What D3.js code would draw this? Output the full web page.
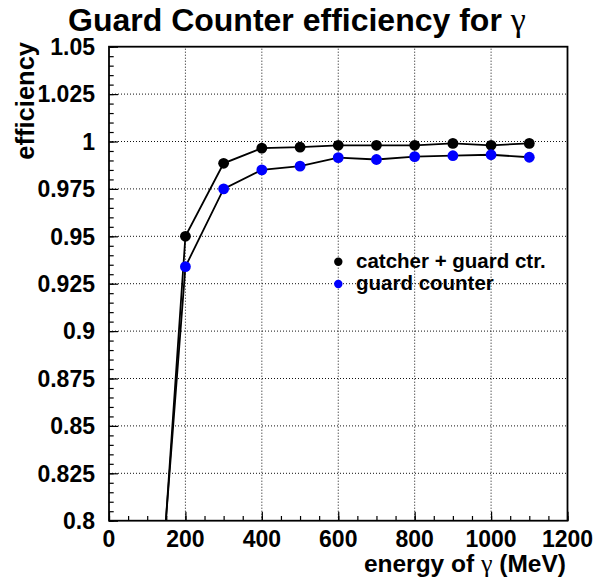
<!DOCTYPE html>
<html><head><meta charset="utf-8">
<script src="https://cdn.jsdelivr.net/npm/d3@7"></script>
<style>
html,body{margin:0;padding:0;background:#fff;}
svg{display:block;}
text{font-family:"Liberation Sans",Arial,Helvetica,sans-serif;font-weight:bold;fill:#000;}
.greek{font-family:"Liberation Serif","DejaVu Serif",serif;font-weight:normal;}
</style></head>
<body>
<script>
const energies = [100, 200, 300, 400, 500, 600, 700, 800, 900, 1000, 1100];
const catcherGuard = [0.657, 0.950, 0.9885, 0.9965, 0.997, 0.998, 0.998, 0.998, 0.999, 0.998, 0.999];
const guardCounter = [0.672, 0.934, 0.975, 0.985, 0.987, 0.9915, 0.9905, 0.992, 0.9925, 0.993, 0.9917];
const seriesNames = ["catcher + guard ctr.", "guard counter"];
const seriesColors = ["#000000", "#0000ff"];
const xTicks = [0, 200, 400, 600, 800, 1000, 1200];
const yTicks = [0.8, 0.825, 0.85, 0.875, 0.9, 0.925, 0.95, 0.975, 1, 1.025, 1.05];
const yTickLabels = ["0.8","0.825","0.85","0.875","0.9","0.925","0.95","0.975","1","1.025","1.05"];

const W = 605, H = 584;
const L = 109, R = 567.5, T = 46.7, B = 520.7;
const svg = d3.select("body").append("svg").attr("width", W).attr("height", H);
const x = d3.scaleLinear().domain([0, 1200]).range([L, R]);
const y = d3.scaleLinear().domain([0.8, 1.05]).range([B, T]);

// grid
const grid = svg.append("g").attr("stroke", "#111").attr("stroke-width", 1).attr("stroke-dasharray", "1,2");
xTicks.filter(v => v > 0 && v < 1200).forEach(v => {
  grid.append("line").attr("x1", x(v)).attr("x2", x(v)).attr("y1", B).attr("y2", T);
});
yTicks.filter(v => v > 0.8 && v < 1.05).forEach(v => {
  grid.append("line").attr("x1", L).attr("x2", R).attr("y1", y(v)).attr("y2", y(v));
});

// axes with minor ticks
const xMinor = d3.range(0, 1200.01, 50);
const xAxisMinor = d3.axisBottom(x).tickValues(xMinor).tickSize(-4.7).tickFormat("");
const xAxisMajor = d3.axisBottom(x).tickValues(xTicks).tickSize(-9).tickFormat("");
const yMinor = d3.range(0, 51).map(i => 0.8 + i * 0.005);
const yAxisMinor = d3.axisLeft(y).tickValues(yMinor).tickSize(-4.7).tickFormat("");
const yAxisMajor = d3.axisLeft(y).tickValues(yTicks).tickSize(-9).tickFormat("");
[xAxisMinor, xAxisMajor].forEach(a => {
  const g = svg.append("g").attr("transform", `translate(0,${B})`).call(a);
  g.select(".domain").remove();
  g.selectAll("line").attr("stroke", "#000").attr("stroke-width", 1.2);
});
[yAxisMinor, yAxisMajor].forEach(a => {
  const g = svg.append("g").attr("transform", `translate(${L},0)`).call(a);
  g.select(".domain").remove();
  g.selectAll("line").attr("stroke", "#000").attr("stroke-width", 1.2);
});

// tick labels
svg.append("g").selectAll("text").data(xTicks).join("text")
  .attr("x", d => x(d)).attr("y", 546.5).attr("text-anchor", "middle")
  .attr("font-size", 23).text(d => d);
svg.append("g").selectAll("text").data(yTicks).join("text")
  .attr("x", 95).attr("y", d => y(d) + 8.3).attr("text-anchor", "end")
  .attr("font-size", 23).text((d, i) => yTickLabels[i]);

// clip
svg.append("clipPath").attr("id", "clip").append("rect")
  .attr("x", L).attr("y", T).attr("width", R - L).attr("height", B - T);

const line = d3.line().x(d => x(d[0])).y(d => y(d[1]));
const seriesData = [catcherGuard, guardCounter];
const plot = svg.append("g").attr("clip-path", "url(#clip)");
seriesData.forEach((vals, si) => {
  const pts = energies.map((e, i) => [e, vals[i]]);
  plot.append("path").datum(pts).attr("d", line)
    .attr("fill", "none").attr("stroke", "#000").attr("stroke-width", 1.8);
});
seriesData.forEach((vals, si) => {
  const pts = energies.map((e, i) => [e, vals[i]]);
  plot.append("g").selectAll("circle").data(pts).join("circle")
    .attr("cx", d => x(d[0])).attr("cy", d => y(d[1])).attr("r", 5.4)
    .attr("fill", seriesColors[si]);
});

// frame
svg.append("rect").attr("x", L).attr("y", T).attr("width", R - L).attr("height", B - T)
  .attr("fill", "none").attr("stroke", "#000").attr("stroke-width", 1.8);

// legend
const legY = [261.7, 284];
seriesNames.forEach((n, i) => {
  svg.append("circle").attr("cx", 338.3).attr("cy", legY[i]).attr("r", 4.2).attr("fill", seriesColors[i]);
  svg.append("text").attr("x", 356).attr("y", legY[i] + 6).attr("font-size", 20.5).text(n);
});

// title
const title = svg.append("text").attr("x", 68).attr("y", 31).attr("font-size", 32);
title.append("tspan").text("Guard Counter efficiency for ");
title.append("tspan").attr("class", "greek").attr("font-size", 34).text("γ");

// x axis title
const xt = svg.append("text").attr("x", 566).attr("y", 572).attr("text-anchor", "end").attr("font-size", 24.5);
xt.append("tspan").text("energy of ");
xt.append("tspan").attr("class", "greek").attr("font-size", 26).text("γ");
xt.append("tspan").text(" (MeV)");

// y axis title
svg.append("text").attr("transform", "translate(34,42) rotate(-90)").attr("text-anchor", "end")
  .attr("font-size", 25.5).text("efficiency");
</script>
</body></html>
